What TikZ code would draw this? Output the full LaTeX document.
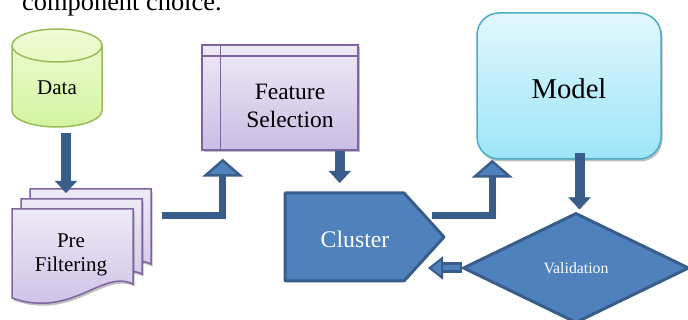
\documentclass[tikz,border=0pt]{standalone}
\usepackage{fontspec}
\setmainfont{Liberation Serif}
\usetikzlibrary{arrows.meta,shapes.geometric,calc,shadows}
\definecolor{ardark}{HTML}{385D8A}
\definecolor{arlight}{HTML}{4F81BD}
\definecolor{grnline}{HTML}{9BBB59}
\definecolor{grntop}{HTML}{F0FCD6}
\definecolor{grnbot}{HTML}{D3F4A0}
\definecolor{purline}{HTML}{8064A2}
\definecolor{purtop}{HTML}{EEEAF6}
\definecolor{purbot}{HTML}{CBBDE5}
\definecolor{cyanline}{HTML}{4BACC6}
\definecolor{cyantop}{HTML}{E2F7FD}
\definecolor{cyanbot}{HTML}{9CE5F8}
\begin{document}
\begin{tikzpicture}[x=1pt,y=-1pt,
  holder/.style={inner sep=0pt,outer sep=0pt,draw=none},
  txt/.style={inner sep=0pt, align=center, text=black},
  solidarrow/.style={draw=ardark, line width=10pt, -{Triangle[width=22pt,length=12pt,line width=0.4pt]}},
  bentarrow/.style={draw=ardark, line width=7pt, -{Triangle[width=41pt,length=18pt,line width=2.5pt,fill=arlight]}},
  lavshape/.style={draw=purline, line width=1.5pt, top color=purtop, bottom color=purbot},
  softshadow/.style={drop shadow={shadow xshift=1.5pt, shadow yshift=-2.5pt, opacity=0.25, fill=black}},
]
\useasboundingbox (0,0) rectangle (688,320);
\fill[white] (0,0) rectangle (688,320);

% caption fragment
\node[anchor=base west, inner sep=0pt, font=\fontsize{26.4}{30}\selectfont] (caption) at (22,11) {component choice.};

% Data cylinder
\node[holder, minimum width=90pt, minimum height=98pt] (data) at (57,78) {};
\begin{scope}[shift={(12,29)}]
  \path[draw=grnline, line width=1.5pt, top color=grntop, bottom color=grnbot]
    (0,16.5) -- (0,81.5) arc[start angle=180,end angle=360,x radius=45pt,y radius=16.5pt]
    -- (90,16.5) arc[start angle=0,end angle=180,x radius=45pt,y radius=16.5pt] -- cycle;
  \draw[grnline, line width=1.5pt] (0,16.5) arc[start angle=180,end angle=360,x radius=45pt,y radius=16.5pt];
\end{scope}
\node[txt, font=\fontsize{21}{25}\selectfont] (datal) at (57,88) {Data};

% Pre filtering (multi-document)
\node[holder, minimum width=141pt, minimum height=111pt] (pre) at (82.5,244.5) {};
\begin{scope}[shift={(30,189)}]
  \path[lavshape, softshadow] (0,0) -- (121,0) -- (121,75) .. controls (90,60) and (60,110) .. (0,89) -- cycle;
\end{scope}
\begin{scope}[shift={(21,199)}]
  \path[lavshape, softshadow] (0,0) -- (121,0) -- (121,75) .. controls (90,60) and (60,110) .. (0,89) -- cycle;
\end{scope}
\begin{scope}[shift={(12,209)}]
  \path[lavshape, softshadow] (0,0) -- (121,0) -- (121,75) .. controls (90,60) and (60,110) .. (0,89) -- cycle;
\end{scope}
\node[txt, font=\fontsize{21}{24.5}\selectfont] (prel) at (71,255) {Pre\\Filtering};

% Feature selection (internal storage)
\node[lavshape, softshadow, minimum width=156pt, minimum height=105pt, inner sep=0pt] (feat) at (280,97.5) {};
\draw[purline, line width=1.5pt] ($(feat.north west)+(0,12)$) -- ($(feat.north east)+(0,12)$);
\draw[purline, line width=1.5pt] ($(feat.north west)+(19,0)$) -- ($(feat.south west)+(19,0)$);
\node[txt, font=\fontsize{23.5}{28}\selectfont] (featl) at (290,106) {Feature\\Selection};

% Cluster
\node[holder, minimum width=159pt, minimum height=88pt] (clu) at (364.5,237) {};
\path[draw=ardark, fill=arlight, line width=3pt, line join=round]
  (clu.north west) -- ($(clu.north east)+(-40,0)$) -- (clu.east) -- ($(clu.south east)+(-40,0)$) -- (clu.south west) -- cycle;
\node[txt, text=white, font=\fontsize{23.8}{28}\selectfont] (clul) at (355,239) {Cluster};

% Model
\node[draw=cyanline, line width=1.5pt, top color=cyantop, bottom color=cyanbot, rounded corners=22pt,
      minimum width=184pt, minimum height=146pt, inner sep=0pt, softshadow] (model) at (569,86) {};
\node[txt, font=\fontsize{28.7}{32}\selectfont] (modell) at (569,89) {Model};

% Validation
\node[diamond, draw=ardark, fill=arlight, line width=3pt, minimum width=226pt, minimum height=110pt,
      inner sep=0pt, text=white, font=\fontsize{15.8}{18}\selectfont] (val) at (576,268) {Validation};

% connectors
\draw[solidarrow] ($(data.south)+(9,6)$) -- ($(data.south |- pre.north)+(9,4)$);
\draw[bentarrow] ($(pre.east)+(9,-29)$) -| ($(feat.south west)+(21.5,8)$);
\draw[solidarrow] ($(feat.south east)+(-19,0)$) -- ($(feat.south east |- clu.north)+(-19,-10)$);
\draw[bentarrow] ($(clu.east)+(-12,-21.5)$) -| ($(model.south west)+(16,0)$);
\draw[solidarrow] ($(model.south)+(10.5,-7)$) -- ($(model.south |- val.north)+(10.5,-2)$);
\draw[draw=ardark, line width=11pt, -{Triangle[width=23pt,length=15pt,line width=2pt,fill=arlight]}]
  (val.west) -- ($(clu.east |- val.west)+(-16,0)$);
\draw[arlight, line width=5pt] ($(val.west)+(-1.5,0)$) -- ($(clu.east |- val.west)+(-1,0)$);
\end{tikzpicture}
\end{document}
